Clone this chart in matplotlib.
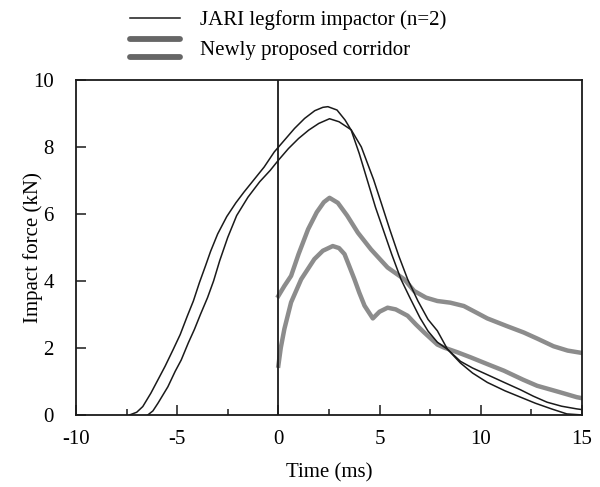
import matplotlib
matplotlib.use("Agg")
import matplotlib.pyplot as plt
from matplotlib.lines import Line2D
from matplotlib.legend_handler import HandlerBase
from matplotlib.ticker import MultipleLocator

plt.rcParams["font.family"] = ["Liberation Serif", "DejaVu Serif"]
plt.rcParams["font.size"] = 15
plt.rcParams["axes.unicode_minus"] = False

# JARI legform impactor, test 1 (earlier rise, higher peak)
t_jari1 = [-7.35, -7.0, -6.7, -6.3, -5.95, -5.6, -5.2, -4.85, -4.5, -4.2, -3.9, -3.6,
           -3.35, -3.0, -2.55, -2.1, -1.7, -1.3, -0.7, -0.2, 0.3, 0.8, 1.3, 1.8, 2.2,
           2.45, 2.9, 3.3, 3.6, 4.0, 4.39, 4.8, 5.2, 5.6, 6.06, 6.5, 7.0, 7.4, 7.86, 8.36,
           9.0, 9.6, 10.33, 11.2, 11.97, 12.6, 13.28, 14.0, 14.75, 15.0]
f_jari1 = [0.0, 0.08, 0.25, 0.65, 1.05, 1.45, 1.95, 2.4, 2.95, 3.4, 3.95, 4.45,
           4.88, 5.4, 5.92, 6.33, 6.65, 6.95, 7.4, 7.85, 8.2, 8.55, 8.85, 9.08, 9.18,
           9.2, 9.1, 8.8, 8.5, 7.8, 7.02, 6.2, 5.5, 4.8, 4.05, 3.5, 2.9, 2.5, 2.17, 1.96,
           1.6, 1.4, 1.2, 0.96, 0.75, 0.56, 0.38, 0.26, 0.18, 0.16]

# JARI legform impactor, test 2
t_jari2 = [-6.45, -6.2, -5.95, -5.7, -5.46, -5.1, -4.8, -4.45, -4.15, -3.85, -3.5, -3.2,
           -2.9, -2.5, -2.06, -1.5, -0.92, -0.4, 0.0, 0.5, 1.0, 1.5, 2.0, 2.53, 3.0, 3.6,
           4.1, 4.71, 5.1, 5.5, 5.95, 6.39, 6.9, 7.4, 7.86, 8.36, 9.0, 9.6, 10.33, 11.2,
           11.97, 12.7, 13.5, 14.26, 15.0]
f_jari2 = [0.0, 0.12, 0.35, 0.6, 0.84, 1.3, 1.64, 2.15, 2.55, 3.0, 3.5, 4.0,
           4.6, 5.3, 5.95, 6.5, 6.96, 7.3, 7.6, 7.95, 8.25, 8.5, 8.7, 8.84, 8.75, 8.51,
           8.0, 7.02, 6.3, 5.55, 4.75, 4.05, 3.4, 2.85, 2.51, 1.96, 1.55, 1.25, 0.97, 0.72,
           0.53, 0.35, 0.18, 0.03, 0.0]

# Newly proposed corridor: upper and lower bounds
t_upper = [0.0, 0.3, 0.63, 1.0, 1.47, 1.9, 2.25, 2.53, 2.94, 3.4, 3.93, 4.58, 5.4, 6.22,
           6.71, 7.3, 7.86, 8.5, 9.17, 9.8, 10.33, 11.3, 12.13, 12.79, 13.6, 14.3, 15.0]
f_upper = [3.55, 3.85, 4.15, 4.8, 5.54, 6.05, 6.35, 6.48, 6.33, 5.95, 5.44, 4.94, 4.4, 4.05,
           3.7, 3.5, 3.4, 3.35, 3.25, 3.05, 2.88, 2.65, 2.46, 2.28, 2.05, 1.92, 1.85]

t_lower = [0.0, 0.12, 0.3, 0.63, 1.13, 1.78, 2.2, 2.69, 3.0, 3.27, 3.5, 3.76, 4.0, 4.26,
           4.67, 5.0, 5.4, 5.8, 6.39, 6.8, 7.21, 7.86, 8.19, 8.85, 9.5, 10.4, 11.15, 12.1,
           12.79, 13.9, 14.75, 15.0]
f_lower = [1.47, 2.0, 2.57, 3.36, 4.05, 4.65, 4.9, 5.04, 4.98, 4.8, 4.45, 4.05, 3.65, 3.26,
           2.88, 3.08, 3.2, 3.15, 2.96, 2.7, 2.46, 2.1, 2.01, 1.87, 1.72, 1.5, 1.32, 1.05,
           0.87, 0.68, 0.53, 0.5]


class HandlerDouble(HandlerBase):
    # two thick bars for the corridor entry
    def create_artists(self, legend, orig_handle, xdescent, ydescent,
                       width, height, fontsize, trans):
        yc = height / 2 - ydescent
        off = 0.62 * height
        arts = []
        for dy in (off, -off):
            ln = Line2D([-xdescent, width - xdescent], [yc + dy, yc + dy],
                        color="#666666", lw=4.2, solid_capstyle="round")
            ln.set_transform(trans)
            arts.append(ln)
        return arts


fig = plt.figure(figsize=(6, 4.87), dpi=100)
ax = fig.add_axes([0.1267, 0.148, 0.843, 0.688])

corr_col = "#8c8c8c"
ax.plot(t_upper, f_upper, color=corr_col, lw=3.2)
corr, = ax.plot(t_lower, f_lower, color=corr_col, lw=3.2)
jari, = ax.plot(t_jari1, f_jari1, color="#1a1a1a", lw=1.1)
ax.plot(t_jari2, f_jari2, color="#1a1a1a", lw=1.1)

ax.axvline(0, color="#1a1a1a", lw=1.3)

ax.set_xlim(-10, 15)
ax.set_ylim(0, 10)
ax.xaxis.set_major_locator(MultipleLocator(5))
ax.xaxis.set_minor_locator(MultipleLocator(2.5))
ax.yaxis.set_major_locator(MultipleLocator(2))
ax.tick_params(which="both", direction="in", width=1.1, color="#1a1a1a")
ax.tick_params(which="major", length=7)
ax.tick_params(which="minor", length=4)
ax.tick_params(axis="x", which="major", pad=11)
ax.tick_params(axis="y", which="major", pad=16)
for s in ax.spines.values():
    s.set_linewidth(1.3)
    s.set_color("#1a1a1a")

ax.set_xlabel("Time (ms)")
ax.set_ylabel("Impact force (kN)")
ax.xaxis.set_label_coords(0.5, -0.143)
ax.yaxis.set_label_coords(-0.066, 0.5)

fig.legend([jari, corr], ["JARI legform impactor (n=2)", "Newly proposed corridor"],
           handler_map={corr: HandlerDouble()}, loc="upper left",
           bbox_to_anchor=(0.2, 1.0), frameon=False, handlelength=2.4,
           handletextpad=0.95, labelspacing=0.5, borderpad=0.0)

fig.savefig("out.png", dpi=100)
